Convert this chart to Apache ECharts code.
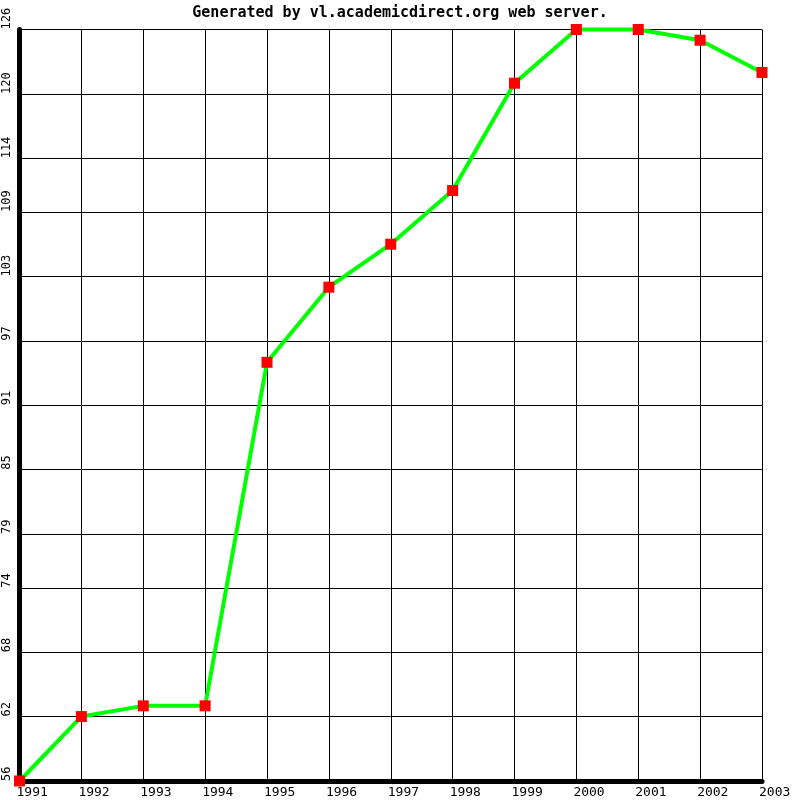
<!DOCTYPE html>
<html>
<head>
<meta charset="utf-8">
<script src="https://cdn.jsdelivr.net/npm/echarts@6/dist/echarts.min.js"></script>
<style>html,body{margin:0;padding:0;background:#fff;}#c{width:800px;height:800px;}</style>
</head>
<body>
<div id="c"></div>
<script>
var years = ['1991','1992','1993','1994','1995','1996','1997','1998','1999','2000','2001','2002','2003'];
var values = [56, 62, 63, 63, 95, 102, 106, 111, 121, 126, 126, 125, 122];
var yTicks = [56, 62, 68, 74, 79, 85, 91, 97, 103, 109, 114, 120, 126];
var titleText = 'Generated by vl.academicdirect.org web server.';

var chart = echarts.init(document.getElementById('c'), null, {renderer: 'canvas'});
var mono = "'DejaVu Sans Mono', 'Liberation Mono', monospace";
chart.setOption({
  animation: false,
  backgroundColor: '#ffffff',
  title: {
    text: titleText, left: 'center', top: 1,
    textStyle: {fontFamily: mono, fontWeight: 'bold', fontSize: 15, color: '#000'}
  },
  grid: {left: 19.5, right: 38, top: 29.5, bottom: 19, containLabel: false},
  xAxis: {
    type: 'category', data: years, boundaryGap: false,
    axisLine: {show: true, lineStyle: {color: '#000', width: 5}},
    axisTick: {show: false},
    splitLine: {show: true, lineStyle: {color: '#000', width: 1}},
    axisLabel: {fontFamily: mono, fontSize: 13, color: '#000', align: 'left', margin: 5, padding: [0,0,0,-3], interval: 0}
  },
  yAxis: {
    type: 'value', min: 56, max: 126,
    axisLine: {show: true, onZero: false, lineStyle: {color: '#000', width: 5}},
    axisTick: {show: false},
    splitLine: {show: false},
    axisLabel: {customValues: yTicks, fontFamily: mono, fontSize: 12, color: '#000', rotate: 90, align: 'left', verticalAlign: 'bottom', margin: 7}
  },
  series: [{
    type: 'line', data: values, clip: false,
    lineStyle: {color: '#00ff00', width: 4},
    symbol: 'rect', symbolSize: 11,
    itemStyle: {color: '#ff0000', borderWidth: 0},
    z: 5,
    markLine: {
      silent: true, symbol: ['none','none'], animation: false,
      label: {show: false},
      lineStyle: {color: '#000', width: 1, type: 'solid'},
      emphasis: {disabled: true},
      data: yTicks.map(function(v){ return {yAxis: v}; }),
      z: 1
    }
  }]
});
</script>
</body>
</html>
